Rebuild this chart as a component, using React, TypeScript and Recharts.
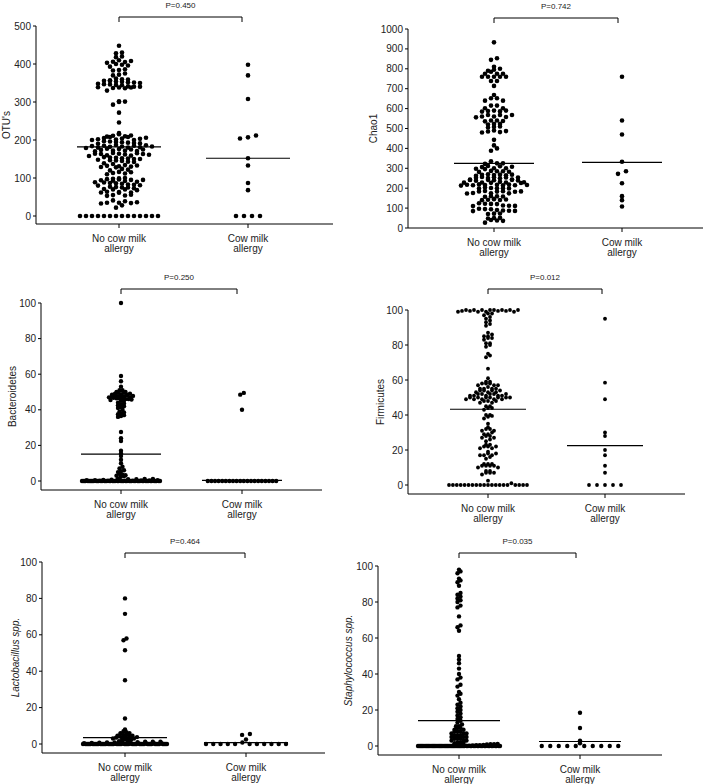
import React from 'react';
import { ScatterChart, Scatter, XAxis, YAxis, ReferenceLine } from 'recharts';

// ---------- data ----------
const CATEGORY_LINES = [['No cow milk', 'allergy'], ['Cow milk', 'allergy']];
const Y_LABELS = ["OTU's", 'Chao1', 'Bacteroidetes', 'Firmicutes', 'Lactobacillus spp.', 'Staphylococcus spp.'];
const P_VALUES = ['P=0.450', 'P=0.742', 'P=0.250', 'P=0.012', 'P=0.464', 'P=0.035'];

const OTU_TICKS = [0, 100, 200, 300, 400, 500];
const CHAO_TICKS = [0, 100, 200, 300, 400, 500, 600, 700, 800, 900, 1000];
const PCT_TICKS = [0, 20, 40, 60, 80, 100];

const OTU_NO = [
  0, 0, 0, 0, 0, 0, 0, 0, 0, 0, 0, 0, 0, 0,
  22, 28, 33, 34, 35, 35, 36, 39, 41,
  53, 54, 55, 56, 61, 62, 62, 63, 64, 68, 70, 70, 71, 73, 75, 75, 76, 77,
  80, 81, 82, 83, 85, 86, 87, 88, 89, 90, 92, 93, 94, 95, 95, 96, 97, 98, 99, 100,
  110, 112, 113, 115, 116, 120, 122, 124, 128, 129, 130, 131, 132, 133, 134,
  137, 139, 142, 143, 145, 146, 147, 148, 150, 150, 151, 152, 153, 154, 155, 158, 159, 160, 161, 162, 163, 163, 164, 164, 165, 166,
  170, 171, 172, 172, 174, 175, 175, 176, 177, 179, 180, 180, 181, 182, 183, 183, 184, 185, 185, 186, 187, 190, 191, 192, 193, 194, 195, 196, 197,
  200, 200, 201, 202, 203, 204, 205, 206, 208, 208, 209, 210, 211, 212, 215, 218,
  246, 272, 293, 300, 301, 302,
  330, 336, 337, 338, 338, 339, 340, 340, 341, 344, 345, 346, 347, 348, 350, 351, 352, 353, 354, 355, 356, 357, 359, 360, 362,
  370, 372, 375, 383, 384, 386, 393, 396, 398, 400, 403, 405, 406, 408, 410, 418, 420, 428, 430, 448,
];
const OTU_CMA = [0, 0, 0, 0, 68, 87, 133, 152, 204, 207, 212, 308, 370, 398];
const OTU_MEANS = [182, 152];

const CHAO_NO = [
  933, 853, 845, 810, 800, 795, 790, 785, 775, 775, 775, 760, 760, 760, 760, 760, 739, 739, 714,
  668, 652, 652, 640, 640, 615, 615, 602, 602, 590, 590, 588, 586, 585, 568, 568, 568, 560, 560, 558, 556,
  540, 540, 538, 536, 523, 523, 520, 510, 508, 505, 490, 487, 485, 482, 480, 443, 415, 400, 388,
  335, 325, 325, 322, 312, 310, 308, 306, 300, 300, 298, 296, 287, 285, 285, 283, 282,
  270, 268, 268, 267, 266, 265, 262, 256, 255, 254, 254, 252, 251, 250, 244, 243, 242, 242, 241, 240, 239, 238,
  232, 230, 229, 229, 228, 227, 226, 219, 218, 217, 217, 216, 216, 215, 215, 214, 213, 203, 201, 200, 200, 199, 198,
  186, 185, 184, 184, 183, 182, 176, 175, 174, 173, 160, 159, 158, 157, 145, 143, 142, 141, 140,
  124, 122, 121, 120, 113, 112, 111, 110, 97, 95, 94, 90, 88, 87, 86, 85, 73, 72, 70, 51, 50, 48, 40, 38, 36, 27,
];
const CHAO_CMA = [760, 540, 470, 333, 285, 272, 225, 160, 140, 108];
const CHAO_MEANS = [325, 330];

const BACT_NO = [
  100, 59, 56, 53, 51, 51,
  50, 50, 49.5, 49.5, 49, 49, 48.8, 48.5, 48.5, 48.2, 48, 48, 47.8, 47.5, 47.5, 47.2, 47, 47, 46.8, 46.5, 46.5, 46.2, 46, 46, 45.8, 45.5, 45.2, 45,
  44, 43.5, 43, 42.5, 42, 41.5, 41, 40,
  39, 38.5, 38, 37.5, 37, 36.5, 36,
  27.5, 24, 22.5, 17, 15.5, 14, 12, 10, 8, 7, 6, 5.5, 5, 4, 3.5, 3.2, 3, 2.8, 2.5,
  1.5, 1.2, 1.2, 1, 1, 0.8, 0.8, 0.6, 0.5, 0.5, 0.4, 0.3, 0.3, 0.2, 0.2, 0.1, 0.1, 0.1,
  0, 0, 0, 0, 0, 0, 0, 0, 0, 0, 0, 0, 0, 0, 0, 0, 0, 0, 0, 0, 0, 0, 0, 0, 0,
  0, 0, 0, 0, 0, 0, 0, 0, 0, 0, 0, 0, 0, 0, 0, 0, 0, 0, 0, 0, 0, 0, 0, 0, 0,
];
const BACT_CMA = [49.5, 48.5, 40, 0, 0, 0, 0, 0, 0, 0, 0, 0, 0, 0, 0, 0, 0, 0, 0, 0, 0, 0, 0];
const BACT_MEANS = [15.1, 0.4];

const FIRM_NO = [
  100, 100, 100, 100, 100, 100, 100, 100, 99.5, 99.5, 99.5, 99.5, 99, 99, 99, 99, 98, 98,
  97, 96, 95, 94, 93, 92, 91,
  87, 86, 85, 85, 84, 84, 83, 81, 81, 80, 79,
  75, 74, 73, 66.5,
  61, 59, 59, 58, 58, 58, 57, 57, 57, 56, 55, 55, 55, 55, 54, 54, 54, 54, 53, 53, 53, 52, 52, 52, 52, 52,
  51, 51, 51, 51, 51, 50, 50, 50, 50, 50, 50, 50, 49, 49, 49, 49, 49, 48, 48, 48, 47, 47,
  45, 45, 44, 44, 43, 40, 40, 39.5, 39, 38,
  35, 33, 32, 32, 31, 31, 30, 29, 29, 28, 28, 27, 27, 26, 25,
  23, 23, 22, 22, 22, 21, 21, 19, 18, 18, 17, 17, 17, 16,
  15, 12, 12, 12, 11, 11, 11, 11, 10, 10, 8, 8, 7, 7, 7, 6,
  2.5, 1,
  0, 0, 0, 0, 0, 0, 0, 0, 0, 0, 0, 0, 0, 0, 0, 0, 0, 0, 0, 0,
];
const FIRM_CMA = [95, 58.5, 49, 30, 28, 20, 17, 11, 7, 0, 0, 0, 0, 0];
const FIRM_MEANS = [43.3, 22.5];

const LACTO_NO = [
  80, 71.5, 58, 57, 51.5, 35, 14, 8, 7, 6.5, 6, 6, 5.5, 5, 5, 4.8, 4.5, 4.5, 4.2, 4, 4, 3.8, 3.5, 3.5, 3.2, 3, 3, 2.5, 2.2, 2,
  1.5, 1.5, 1.3, 1.2, 1.2, 1, 1, 1, 0.8, 0.8, 0.7, 0.6, 0.5, 0.5, 0.4, 0.3, 0.3, 0.2, 0.2, 0.1,
  0, 0, 0, 0, 0, 0, 0, 0, 0, 0, 0, 0, 0, 0, 0, 0, 0, 0, 0, 0, 0, 0, 0, 0, 0,
  0, 0, 0, 0, 0, 0, 0, 0, 0, 0, 0, 0, 0, 0, 0, 0, 0, 0, 0, 0, 0, 0, 0, 0, 0,
  0, 0, 0, 0, 0, 0, 0, 0, 0, 0,
];
const LACTO_CMA = [5.5, 5, 2.5, 0.8, 0, 0, 0, 0, 0, 0, 0, 0, 0, 0, 0];
const LACTO_MEANS = [3.5, 0.8];

const STAPH_NO = [
  98, 97, 96, 93, 92, 91, 89, 85, 84, 83, 82, 81, 80, 78, 77, 72, 67, 66, 64,
  50, 48, 46, 43, 40, 38, 37, 34, 33, 30, 29, 28, 26, 24, 23, 22, 21, 20, 19, 18, 17, 16, 15, 14, 13, 12,
  11, 11, 10, 10, 9, 9, 8, 8, 8, 7, 7, 7, 6, 6, 6, 5, 5, 5, 4, 4, 4, 3, 3, 3, 2, 2, 2,
  1.5, 1.2, 1, 1, 0.8, 0.6, 0.5, 0.4, 0.3, 0.2, 0.1,
  0, 0, 0, 0, 0, 0, 0, 0, 0, 0, 0, 0, 0, 0, 0, 0, 0, 0, 0, 0, 0, 0, 0, 0, 0,
  0, 0, 0, 0, 0, 0, 0, 0, 0, 0, 0, 0, 0, 0, 0, 0, 0, 0, 0, 0, 0, 0, 0, 0, 0,
  0, 0, 0, 0, 0, 0, 0, 0, 0, 0,
];
const STAPH_CMA = [18.5, 10, 3, 1.5, 0, 0, 0, 0, 0, 0, 0, 0, 0, 0];
const STAPH_MEANS = [14.1, 2.5];

// ---------- layout (pixels in page) ----------
type Layout = {
  left: number; top: number; plotLeft: number; plotRight: number;
  yTopPx: number; y0Px: number; axisPx: number; cat1Px: number; cat2Px: number;
  bracketPx: number; bracketEnd: number; labelX: number;
  r: number; rowH: number; steps: number[]; maxW: number[]; meanHalf: number; marginRight: number;
};

const PANELS = [
  { yLabel: Y_LABELS[0], italic: false, p: P_VALUES[0], ticks: OTU_TICKS, groups: [OTU_NO, OTU_CMA], means: OTU_MEANS,
    layout: { left: 0, top: 0, plotLeft: 36, plotRight: 333, yTopPx: 26, y0Px: 216, axisPx: 224, cat1Px: 119, cat2Px: 248,
      bracketPx: 17, bracketEnd: 242, labelX: 6, r: 2.3, rowH: 3.3, steps: [6, 8], maxW: [80, 60], meanHalf: 42, marginRight: 8 } },
  { yLabel: Y_LABELS[1], italic: false, p: P_VALUES[1], ticks: CHAO_TICKS, groups: [CHAO_NO, CHAO_CMA], means: CHAO_MEANS,
    layout: { left: 360, top: 0, plotLeft: 408, plotRight: 703, yTopPx: 29, y0Px: 228, axisPx: 228, cat1Px: 494, cat2Px: 622,
      bracketPx: 18, bracketEnd: 618, labelX: 373, r: 2.3, rowH: 2.8, steps: [6, 8], maxW: [82, 60], meanHalf: 40, marginRight: 5 } },
  { yLabel: Y_LABELS[2], italic: false, p: P_VALUES[2], ticks: PCT_TICKS, groups: [BACT_NO, BACT_CMA], means: BACT_MEANS,
    layout: { left: 0, top: 260, plotLeft: 41, plotRight: 322, yTopPx: 303, y0Px: 481, axisPx: 490, cat1Px: 121, cat2Px: 242,
      bracketPx: 289, bracketEnd: 237, labelX: 12, r: 2.2, rowH: 2.5, steps: [3, 3.6], maxW: [78, 78], meanHalf: 40, marginRight: 8 } },
  { yLabel: Y_LABELS[3], italic: false, p: P_VALUES[3], ticks: PCT_TICKS, groups: [FIRM_NO, FIRM_CMA], means: FIRM_MEANS,
    layout: { left: 360, top: 260, plotLeft: 408, plotRight: 685, yTopPx: 310, y0Px: 485, axisPx: 494, cat1Px: 488, cat2Px: 605,
      bracketPx: 289, bracketEnd: 602, labelX: 380, r: 1.9, rowH: 2.8, steps: [4, 8], maxW: [78, 60], meanHalf: 38, marginRight: 8 } },
  { yLabel: Y_LABELS[4], italic: true, p: P_VALUES[4], ticks: PCT_TICKS, groups: [LACTO_NO, LACTO_CMA], means: LACTO_MEANS,
    layout: { left: 0, top: 520, plotLeft: 42, plotRight: 325, yTopPx: 562, y0Px: 744, axisPx: 753, cat1Px: 125, cat2Px: 246,
      bracketPx: 553, bracketEnd: 245, labelX: 15, r: 2.2, rowH: 2.5, steps: [3, 7.8], maxW: [84, 80], meanHalf: 42, marginRight: 8 } },
  { yLabel: Y_LABELS[5], italic: true, p: P_VALUES[5], ticks: PCT_TICKS, groups: [STAPH_NO, STAPH_CMA], means: STAPH_MEANS,
    layout: { left: 335, top: 520, plotLeft: 378, plotRight: 662, yTopPx: 566, y0Px: 746, axisPx: 755, cat1Px: 459, cat2Px: 580,
      bracketPx: 553, bracketEnd: 576, labelX: 348, r: 2.2, rowH: 2.5, steps: [3, 8.5], maxW: [82, 78], meanHalf: 41, marginRight: 8 } },
];

const FONT = '"Liberation Sans", Arial, Helvetica, sans-serif';
const TEXT = '#222';

function gcd(a: number, b: number): number { return b ? gcd(b, a % b) : a; }
function slotOrder(n: number): number[] {
  let k = 1;
  for (const c of [7, 5, 3]) { if (n > c && gcd(c, n) === 1) { k = c; break; } }
  return Array.from({ length: n }, (_, i) => (i * k) % n);
}

// Prism-like scatter layout: points grouped into horizontal rows, spread around the category centre
function swarm(values: number[], cat: number, g: number, ppu: number, ppc: number, L: Layout) {
  const sorted = [...values].sort((a, b) => a - b);
  const rows: number[][] = [];
  let cur: number[] = [];
  let start = 0;
  for (const v of sorted) {
    const py = v * ppu;
    if (cur.length && py - start > L.rowH) { rows.push(cur); cur = []; }
    if (!cur.length) start = py;
    cur.push(v);
  }
  if (cur.length) rows.push(cur);
  const pts: { x: number; y: number }[] = [];
  for (const row of rows) {
    const n = row.length;
    const sp = n > 1 ? Math.min(L.steps[g], L.maxW[g] / (n - 1)) : 0;
    const order = slotOrder(n);
    row.forEach((v, i) => {
      const slot = order[i];
      pts.push({ x: cat + ((slot - (n - 1) / 2) * sp) / ppc, y: v });
    });
  }
  return pts;
}

const XTick = (props: any) => {
  const { x, y, payload } = props;
  const lines = CATEGORY_LINES[Math.round(payload.value) - 1] || [];
  return (
    <text x={x} y={y} textAnchor="middle" fontSize={10} fill={TEXT} fontFamily={FONT}>
      {lines.map((l, i) => (
        <tspan key={i} x={x} dy={i === 0 ? 11.5 : 10.8}>{l}</tspan>
      ))}
    </text>
  );
};

function Panel({ cfg }: { cfg: any }) {
  const L: Layout = cfg.layout;
  const yMax = cfg.ticks[cfg.ticks.length - 1];
  const ppu = (L.y0Px - L.yTopPx) / yMax;
  const yMin = -(L.axisPx - L.y0Px) / ppu;
  const ppc = L.cat2Px - L.cat1Px;
  const xMin = 1 - (L.cat1Px - L.plotLeft) / ppc;
  const xMax = 1 + (L.plotRight - L.cat1Px) / ppc;
  const xAxisH = 40;
  const width = L.plotRight - L.left + L.marginRight;
  const height = L.axisPx - L.top + xAxisH;
  const marginTop = L.yTopPx - L.top;
  const yAxisW = L.plotLeft - L.left;
  const toVal = (px: number) => (L.y0Px - px) / ppu;
  const bY = toVal(L.bracketPx);
  const bYt = toVal(L.bracketPx + 5);
  const bX2 = 1 + (L.bracketEnd - L.cat1Px) / ppc;
  const mh = L.meanHalf / ppc;
  const groups = cfg.groups.map((vals: number[], g: number) => swarm(vals, g + 1, g, ppu, ppc, L));
  const labelX = L.labelX - L.left;
  const labelY = (L.yTopPx + L.axisPx) / 2 - L.top;
  const dot = (p: any) => <circle cx={p.cx} cy={p.cy} r={L.r} fill="#000" />;

  return (
    <div style={{ position: 'absolute', left: L.left, top: L.top }}>
      <ScatterChart width={width} height={height} margin={{ top: marginTop, right: L.marginRight, bottom: 0, left: 0 }}>
        <XAxis type="number" dataKey="x" domain={[xMin, xMax]} ticks={[1, 2]} interval={0}
          tick={<XTick />} tickSize={4} tickMargin={2} height={xAxisH}
          axisLine={{ stroke: '#000', strokeWidth: 1 }} tickLine={{ stroke: '#000' }} />
        <YAxis type="number" dataKey="y" domain={[yMin, yMax]} ticks={cfg.ticks} interval={0} width={yAxisW}
          tickSize={3} tickMargin={2} tick={{ fontSize: 10, fill: TEXT, fontFamily: FONT }}
          axisLine={{ stroke: '#000', strokeWidth: 1 }} tickLine={{ stroke: '#000' }}
          label={{
            content: () => (
              <text x={labelX} y={labelY} transform={`rotate(-90, ${labelX}, ${labelY})`} textAnchor="middle"
                dominantBaseline="central" fontSize={10} fill={TEXT} fontFamily={FONT}
                fontStyle={cfg.italic ? 'italic' : 'normal'}>{cfg.yLabel}</text>
            ),
          }} />
        {groups.map((pts: any[], g: number) => (
          <Scatter key={g} data={pts} isAnimationActive={false} shape={dot} fill="#000" />
        ))}
        {cfg.means.map((m: number, g: number) => (
          <ReferenceLine key={'m' + g} ifOverflow="visible" stroke="#000" strokeWidth={1.2}
            segment={[{ x: g + 1 - mh, y: m }, { x: g + 1 + mh, y: m }]} />
        ))}
        <ReferenceLine ifOverflow="visible" stroke="#000" strokeWidth={1}
          segment={[{ x: 1, y: bY }, { x: bX2, y: bY }]}
          label={{ value: cfg.p, position: 'top', offset: 9.5, fontSize: 8, fill: TEXT, fontFamily: FONT }} />
        <ReferenceLine ifOverflow="visible" stroke="#000" strokeWidth={1}
          segment={[{ x: 1, y: bY }, { x: 1, y: bYt }]} />
        <ReferenceLine ifOverflow="visible" stroke="#000" strokeWidth={1}
          segment={[{ x: bX2, y: bY }, { x: bX2, y: bYt }]} />
      </ScatterChart>
    </div>
  );
}

export default function App() {
  return (
    <div style={{ position: 'absolute', left: 0, top: 0, width: 709, height: 784, background: '#fff', fontFamily: FONT, overflow: 'hidden' }}>
      {PANELS.map((cfg, i) => <Panel key={i} cfg={cfg} />)}
    </div>
  );
}
